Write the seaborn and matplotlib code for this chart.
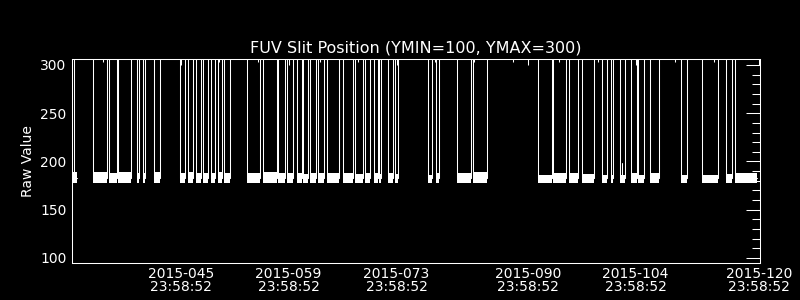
import matplotlib
matplotlib.use("Agg")
import matplotlib.pyplot as plt
import pandas as pd
import seaborn as sns
from matplotlib.ticker import FixedLocator, FixedFormatter, MultipleLocator

# ---------------- data ----------------
title = "FUV Slit Position (YMIN=100, YMAX=300)"
ylabel = "Raw Value"

# x axis: fractional day of year 2015
xtick_pos = [45.9992, 59.9992, 73.9992, 90.9992, 104.9992, 120.9992]
xtick_labels = ["2015-045\n23:58:52", "2015-059\n23:58:52", "2015-073\n23:58:52",
                "2015-090\n23:58:52", "2015-104\n23:58:52", "2015-120\n23:58:52"]
xminor_pos = [35.96, 41.07, 51.01, 56.06, 64.06, 69.03, 78.98, 84.04, 89.13,
              95.10, 100.16, 110.14, 115.20]
ytick_pos = [100, 150, 200, 250, 300]

# low-state intervals of the slit position (start day, end day)
seg_start = [31.97, 34.67, 36.70, 37.91, 40.33, 41.11, 42.58, 45.95, 46.99, 47.98,
             48.89, 49.93, 50.88, 51.61, 54.64, 56.63, 58.66, 59.75, 61.04, 61.90,
             62.77, 63.84, 65.01, 67.01, 68.60, 69.90, 71.07, 71.75, 72.92, 73.79,
             78.03, 79.07, 81.79, 83.95, 92.37, 94.32, 96.40, 98.00, 100.60, 101.80,
             102.97, 104.40, 105.34, 106.86, 110.88, 113.56, 116.72, 117.88]
seg_end = [32.59, 36.40, 37.70, 39.55, 40.63, 41.33, 43.31, 46.60, 47.63, 48.59,
           49.50, 50.45, 51.36, 52.35, 56.28, 58.45, 59.53, 60.52, 61.69, 62.55,
           63.51, 64.58, 66.57, 68.38, 69.60, 70.55, 71.55, 71.97, 73.57, 74.22,
           78.63, 79.54, 83.65, 85.68, 94.11, 95.97, 97.56, 99.64, 101.25, 102.10,
           103.62, 105.14, 106.12, 108.07, 111.62, 115.64, 117.53, 120.70]
# upper edge of the noisy low-state band in each interval
seg_top = [189, 189, 188, 189, 188, 188, 189, 188, 189, 188,
           188, 188, 189, 188, 188, 189, 188, 188, 188, 187,
           188, 188, 188, 188, 187, 188, 188, 187, 188, 187,
           186, 188, 188, 189, 186, 188, 188, 187, 186, 186,
           186, 188, 186, 188, 186, 186, 187, 188]
seg_bottom = [178] * len(seg_start)
# data block: 0 = first short block before a data gap, 1 = main record
seg_run = [0] + [1] * (len(seg_start) - 1)

low_level = 183      # centre of the low state
high_level = 330     # high state, above the plotted range
spike_pos = [32.16]          # brief excursions to the high state
partial_spike_pos = [103.19]  # brief excursion that stays on-scale
partial_spike_val = [198]

# ---------------- build the line path ----------------
rows = []
for r in sorted(set(seg_run)):
    idx = [i for i in range(len(seg_start)) if seg_run[i] == r]
    for k, i in enumerate(idx):
        if k == 0 and r > 0:
            rows.append((r, seg_start[i], high_level))
        rows.append((r, seg_start[i], low_level))
        rows.append((r, seg_end[i], low_level))
        if k < len(idx) - 1:
            rows.append((r, seg_end[i], high_level))
            rows.append((r, seg_start[idx[k + 1]], high_level))
run = 10
for x in spike_pos:
    rows += [(run, x, low_level), (run, x, high_level)]
    run += 1
for x, v in zip(partial_spike_pos, partial_spike_val):
    rows += [(run, x, low_level), (run, x, v)]
    run += 1
df = pd.DataFrame(rows, columns=["run", "day", "value"])

# ---------------- plot ----------------
sns.set_style("dark", {"axes.facecolor": "black", "figure.facecolor": "black"})
plt.rcParams["font.family"] = ["DejaVu Sans"]

fig = plt.figure(figsize=(8, 3), dpi=100, facecolor="black")
ax = fig.add_axes([0.09, 0.1233, 0.86, 0.68])
ax.set_facecolor("black")

for s, e, t, b in zip(seg_start, seg_end, seg_top, seg_bottom):
    ax.fill_between([s, e], [b, b], [t, t], color="white", linewidth=0)

sns.lineplot(data=df, x="day", y="value", units="run", estimator=None, sort=False,
             color="white", linewidth=0.75, ax=ax, legend=False)

ax.set_xlim(31.90, 121.125)
ax.set_ylim(94.8, 306.2)
ax.grid(False)

ax.xaxis.set_major_locator(FixedLocator(xtick_pos))
ax.xaxis.set_major_formatter(FixedFormatter(xtick_labels))
ax.xaxis.set_minor_locator(FixedLocator(xminor_pos))
ax.yaxis.set_major_locator(FixedLocator(ytick_pos))
ax.yaxis.set_minor_locator(MultipleLocator(10))

ax.tick_params(axis="both", which="both", direction="in", top=True, right=True,
               colors="white", width=0.75, labelsize=10)
ax.tick_params(axis="y", which="major", length=10, pad=4)
ax.tick_params(axis="y", which="minor", length=5.5)
ax.tick_params(axis="x", which="major", length=4.3, pad=3)
ax.tick_params(axis="x", which="minor", length=2.4)
for lab in ax.get_xticklabels():
    lab.set_linespacing(0.85)
    lab.set_horizontalalignment("center")

for sp in ax.spines.values():
    sp.set_color("white")
    sp.set_linewidth(0.75)
    sp.set_visible(True)

ax.set_xlabel("")
ax.set_ylabel(ylabel, color="white", fontsize=10, labelpad=4)
ax.set_title(title, color="white", fontsize=11.5, pad=5)

fig.savefig("out.png", dpi=100, facecolor="black")
